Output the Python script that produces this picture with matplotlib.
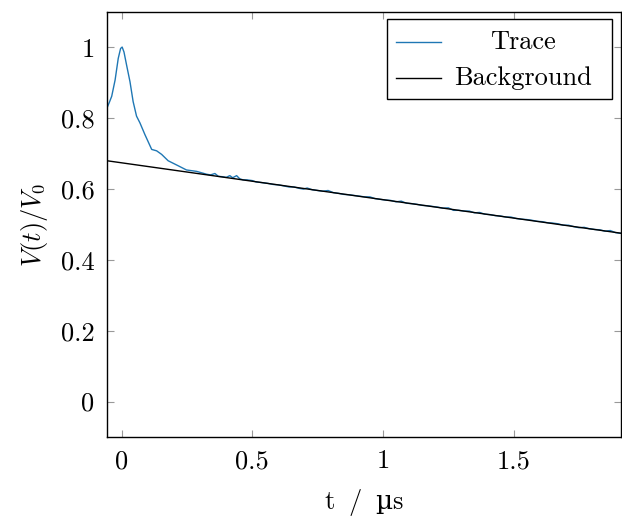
import matplotlib
matplotlib.use("Agg")
import matplotlib.pyplot as plt
from matplotlib.patches import Rectangle
from matplotlib.lines import Line2D

plt.rcParams['font.family'] = ['cmr10', 'DejaVu Serif']
plt.rcParams['mathtext.fontset'] = 'cm'
plt.rcParams['axes.unicode_minus'] = False

# Trace data (t in µs, V/V0)
trace_t = [-0.056, -0.047, -0.038, -0.025, -0.013, -0.004, 0.002, 0.009, 0.019, 0.032,
           0.044, 0.057, 0.070, 0.089, 0.115, 0.134, 0.153, 0.178, 0.216, 0.248,
           0.287, 0.325,
           0.34, 0.357, 0.37, 0.385, 0.40, 0.414, 0.425, 0.44, 0.452, 0.465, 0.48, 0.50,
           0.515, 0.529, 0.54, 0.56, 0.58, 0.60, 0.62, 0.64, 0.66, 0.68, 0.695, 0.71,
           0.73, 0.75, 0.77, 0.79, 0.81, 0.83, 0.85, 0.87, 0.89, 0.91, 0.93, 0.95,
           0.97, 0.99, 1.01, 1.03, 1.05, 1.07, 1.09, 1.11, 1.13, 1.15, 1.17, 1.19,
           1.21, 1.23, 1.25, 1.27, 1.29, 1.31, 1.33, 1.35, 1.37, 1.39, 1.41, 1.43,
           1.45, 1.47, 1.49, 1.51, 1.53, 1.55, 1.57, 1.59, 1.61, 1.63, 1.65, 1.67,
           1.69, 1.71, 1.73, 1.75, 1.77, 1.79, 1.81, 1.83, 1.85, 1.87, 1.89, 1.91]
trace_v = [0.829, 0.845, 0.862, 0.908, 0.969, 0.997, 1.001, 0.987, 0.950, 0.903,
           0.847, 0.806, 0.787, 0.754, 0.712, 0.708, 0.698, 0.680, 0.666, 0.654,
           0.650, 0.642,
           0.640, 0.644, 0.636, 0.635, 0.633, 0.638, 0.632, 0.638, 0.629, 0.626, 0.626, 0.624,
           0.620, 0.619, 0.618, 0.616, 0.613, 0.612, 0.609, 0.606, 0.606, 0.602, 0.600, 0.603,
           0.598, 0.596, 0.594, 0.596, 0.590, 0.588, 0.585, 0.584, 0.582, 0.580, 0.578, 0.578,
           0.573, 0.571, 0.569, 0.568, 0.564, 0.566, 0.560, 0.559, 0.557, 0.554, 0.553, 0.551,
           0.549, 0.546, 0.547, 0.540, 0.540, 0.538, 0.538, 0.533, 0.534, 0.529, 0.528, 0.525,
           0.524, 0.521, 0.521, 0.517, 0.515, 0.514, 0.512, 0.509, 0.508, 0.505, 0.504, 0.502,
           0.498, 0.498, 0.494, 0.491, 0.492, 0.488, 0.486, 0.485, 0.481, 0.483, 0.477, 0.475]

# Background fit line
bg_t = [-0.056, 1.91]
bg_v = [0.680, 0.4755]

xticks = [0, 0.5, 1, 1.5]
xtick_labels = ['0', '0.5', '1', '1.5']
yticks = [0, 0.2, 0.4, 0.6, 0.8, 1.0]
ytick_labels = ['0', '0.2', '0.4', '0.6', '0.8', '1']

W, H = 622, 517
fig = plt.figure(figsize=(W / 100, H / 100), dpi=100)
ax = fig.add_axes([107 / W, 1 - 437 / H, (621 - 107) / W, (437 - 12) / H])

ax.plot(trace_t, trace_v, color='#1f77b4', lw=1.0)
ax.plot(bg_t, bg_v, color='black', lw=1.0)

ax.set_xlim(-0.056, 1.911)
ax.set_ylim(-0.1, 1.1)
ax.set_xticks(xticks)
ax.set_xticklabels(xtick_labels)
ax.set_yticks(yticks)
ax.set_yticklabels(ytick_labels)
ax.tick_params(direction='in', length=5, width=0.8, color='#999999',
               top=True, right=True, labelsize=19, pad=9)
for s in ax.spines.values():
    s.set_linewidth(1.0)
    s.set_color('black')

ax.set_xlabel(r'$\mathrm{t\;\ /\;\ }$µ$\mathrm{s}$', fontsize=19, labelpad=10,
              family='DejaVu Serif')
ax.set_ylabel(r'$V(t)/V_0$', fontsize=19, labelpad=8)

# Legend drawn manually (pgfplots-style centered text)
def fx(px):
    return px / W

def fy(py):
    return 1 - py / H

fig.patches.append(Rectangle((fx(387), fy(99)), fx(612) - fx(387), fy(19) - fy(99),
                             transform=fig.transFigure, facecolor='white',
                             edgecolor='black', lw=1.0, zorder=10))
fig.lines.append(Line2D([fx(396), fx(441)], [fy(42), fy(42)], transform=fig.transFigure,
                        color='#1f77b4', lw=1.0, zorder=11))
fig.lines.append(Line2D([fx(396), fx(441)], [fy(78), fy(78)], transform=fig.transFigure,
                        color='black', lw=1.0, zorder=11))
fig.text(fx(523), fy(42), 'Trace', ha='center', va='center', fontsize=19, zorder=12)
fig.text(fx(523), fy(78), 'Background', ha='center', va='center', fontsize=19, zorder=12)

fig.savefig('out.png', dpi=100)
